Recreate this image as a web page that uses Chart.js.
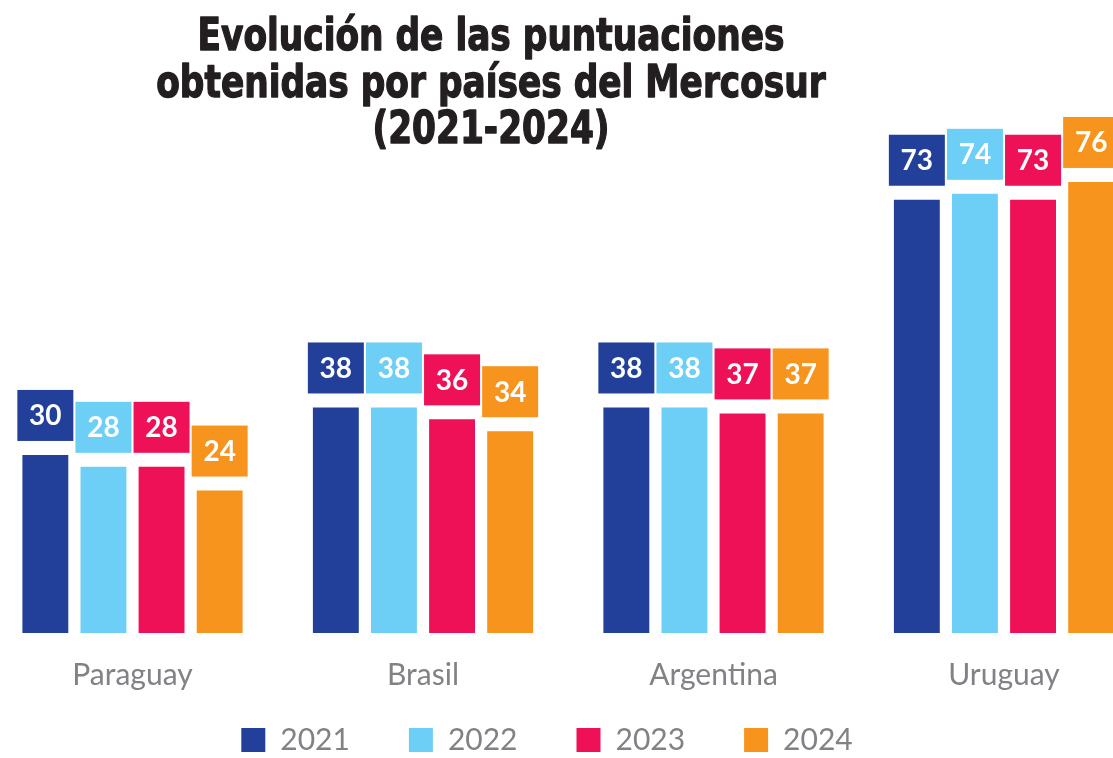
<!DOCTYPE html>
<html><head><meta charset="utf-8">
<script src="https://cdn.jsdelivr.net/npm/chart.js@4.4.1/dist/chart.umd.min.js"></script>
<style>html,body{margin:0;padding:0;background:#fff}#wrap{width:1113px;height:758px;position:relative}</style>
</head><body><div id="wrap"><canvas id="c" width="1113" height="758"></canvas></div>
<script>
const categories = ['Paraguay', 'Brasil', 'Argentina', 'Uruguay'];
const years = ['2021', '2022', '2023', '2024'];
const v2021 = [30, 38, 38, 73];
const v2022 = [28, 38, 38, 74];
const v2023 = [28, 36, 37, 73];
const v2024 = [24, 34, 37, 76];
const seriesValues = [v2021, v2022, v2023, v2024];
const seriesColors = ['#22409A', '#6DCFF6', '#EE1158', '#F7941D'];
const titleLines = ['Evolución de las puntuaciones', 'obtenidas por países del Mercosur', '(2021-2024)'];

const GRAY = '#818285';

const titlePlugin = {
  id: 'customTitle',
  afterDraw(chart) {
    const ctx = chart.ctx;
    ctx.save();
    ctx.font = 'bold 44px "Liberation Sans Narrow", "DejaVu Sans Condensed", sans-serif';
    const w0 = ctx.measureText(titleLines[0]).width;
    const sx = 587 / w0;
    ctx.fillStyle = '#231F20';
    ctx.strokeStyle = '#231F20';
    ctx.lineWidth = 1.3;
    ctx.lineJoin = 'round';
    ctx.textAlign = 'center';
    ctx.textBaseline = 'alphabetic';
    const cx = 491;
    const baselines = [50, 97, 143];
    titleLines.forEach((t, i) => {
      ctx.save();
      ctx.translate(cx, baselines[i]);
      ctx.scale(sx, 1);
      ctx.fillText(t, 0, 0);
      ctx.strokeText(t, 0, 0);
      ctx.restore();
    });
    ctx.restore();
  }
};

const labelPlugin = {
  id: 'boxLabels',
  afterDatasetsDraw(chart) {
    const ctx = chart.ctx;
    ctx.save();
    chart.data.datasets.forEach((ds, di) => {
      const meta = chart.getDatasetMeta(di);
      meta.data.forEach((bar, i) => {
        const bw = 56, bh = 51, gap = 14;
        const left = bar.x - bw / 2;
        const top = bar.y - gap - bh;
        ctx.fillStyle = ds.backgroundColor;
        ctx.fillRect(left, top, bw, bh);
        ctx.fillStyle = '#FFFFFF';
        ctx.font = 'bold 28px Lato, "Open Sans", sans-serif';
        ctx.textAlign = 'center';
        ctx.textBaseline = 'middle';
        ctx.fillText(String(ds.data[i]), bar.x, top + bh / 2 + 1);
      });
    });
    ctx.restore();
  }
};

new Chart(document.getElementById('c'), {
  type: 'bar',
  data: {
    labels: categories,
    datasets: years.map((y, i) => ({
      label: y,
      data: seriesValues[i],
      backgroundColor: seriesColors[i],
      borderWidth: 0,
      categoryPercentage: 0.8,
      barPercentage: 0.79,
      clip: false
    }))
  },
  options: {
    responsive: false,
    devicePixelRatio: 1,
    animation: false,
    layout: { padding: { top: 158.2, left: 0, right: 19, bottom: -7 } },
    plugins: {
      title: { display: false },
      tooltip: { enabled: false },
      legend: {
        display: true,
        position: 'bottom',
        labels: {
          boxWidth: 24,
          boxHeight: 24,
          padding: 59,
          color: GRAY,
          font: { family: 'Lato, "Open Sans", sans-serif', size: 30, lineHeight: 1 }
        }
      }
    },
    scales: {
      x: {
        type: 'category',
        offset: false,
        grid: { display: false },
        border: { display: false },
        ticks: {
          color: GRAY,
          font: { family: 'Lato, "Open Sans", sans-serif', size: 30 },
          mirror: true,
          padding: -60,
          maxRotation: 0,
          autoSkip: false
        },
        afterFit(s) { s.height = 33; }
      },
      y: {
        min: 0,
        max: 80,
        grid: { display: false },
        border: { display: false },
        ticks: { display: false },
        afterFit(s) { s.width = 132.5; }
      },
      y2: {
        type: 'linear',
        position: 'right',
        grid: { display: false },
        border: { display: false },
        ticks: { display: false },
        afterFit(s) { s.width = 90; }
      }
    }
  },
  plugins: [labelPlugin, titlePlugin]
});
</script>
</body></html>
